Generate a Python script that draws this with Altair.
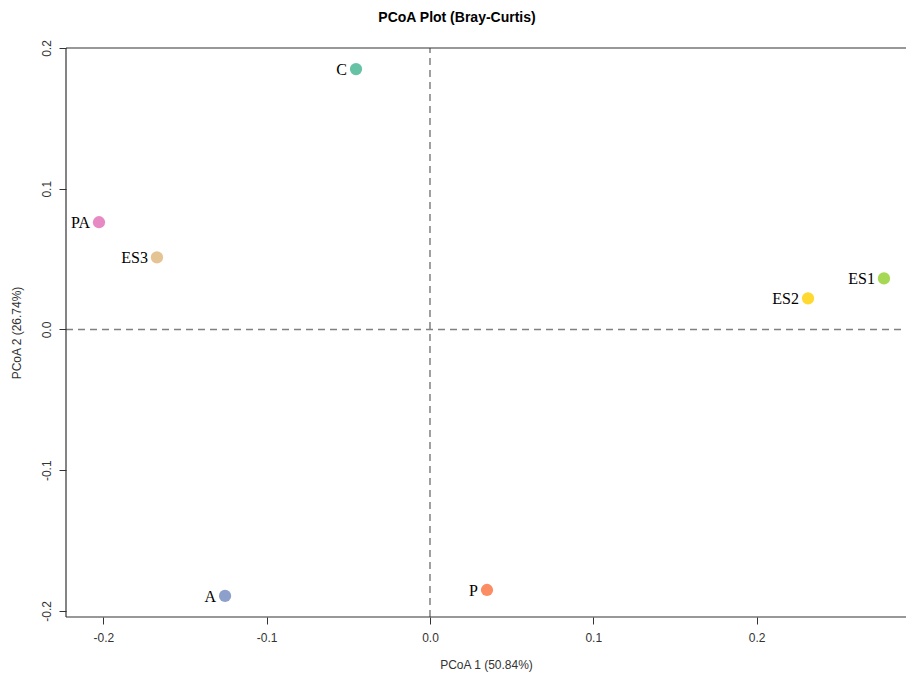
import altair as alt
import pandas as pd

samples = ["C", "PA", "ES3", "ES1", "ES2", "A", "P"]
pc1 = [-0.0453, -0.2027, -0.1672, 0.2780, 0.2315, -0.1255, 0.0349]
pc2 = [0.1850, 0.0762, 0.0512, 0.0363, 0.0221, -0.1893, -0.1851]
colors = ["#66C2A5", "#E78AC3", "#E5C494", "#A6D854", "#FFD92F", "#8DA0CB", "#FC8D62"]
ticks = [-0.2, -0.1, 0.0, 0.1, 0.2]

xdom = [-0.2229, 0.2915]
ydom = [-0.2043, 0.2]

df = pd.DataFrame({"s": samples, "x": pc1, "y": pc2, "c": colors})

xs = alt.Scale(domain=xdom, nice=False, zero=False)
ys = alt.Scale(domain=ydom, nice=False, zero=False)

axis_common = dict(
    values=ticks, grid=False, domain=False,
    labelExpr="replace(format(datum.value, '.1f'), '\u2212', '-')",
    tickColor="#333333", tickSize=7, tickWidth=1,
    labelFont="Liberation Sans", labelFontSize=12, labelColor="#333333",
    titleFont="Liberation Sans", titleFontSize=12, titleFontWeight="normal", titleColor="#333333",
)

base = alt.Chart(df)

points = base.mark_circle(size=150, opacity=1).encode(
    x=alt.X("x:Q", scale=xs, title="PCoA 1 (50.84%)",
            axis=alt.Axis(labelPadding=8, titlePadding=16, **axis_common)),
    y=alt.Y("y:Q", scale=ys, title="PCoA 2 (26.74%)",
            axis=alt.Axis(labelAngle=270, labelAlign="center", labelBaseline="bottom",
                          labelPadding=6, titlePadding=17, **axis_common)),
    color=alt.Color("c:N", scale=None),
)

labels = base.mark_text(align="right", baseline="middle", dx=-9, dy=1,
                        font="Liberation Serif", fontSize=16, color="#000000").encode(
    x=alt.X("x:Q", scale=xs), y=alt.Y("y:Q", scale=ys), text="s:N")

frame_h = pd.DataFrame({"x1": [xdom[0], xdom[0]], "x2": [xdom[1], xdom[1]], "y": [ydom[1], ydom[0]]})
frame_v = pd.DataFrame({"x": [xdom[0]], "y1": [ydom[0]], "y2": [ydom[1]]})

hrules = alt.Chart(frame_h).mark_rule(color="#333333", strokeWidth=1.2).encode(
    x=alt.X("x1:Q", scale=xs), x2="x2:Q", y=alt.Y("y:Q", scale=ys))
vrule = alt.Chart(frame_v).mark_rule(color="#333333", strokeWidth=1.2).encode(
    x=alt.X("x:Q", scale=xs), y=alt.Y("y1:Q", scale=ys), y2="y2:Q")

zero_h = pd.DataFrame({"x1": [xdom[0]], "x2": [xdom[1]], "y": [0.0]})
zero_v = pd.DataFrame({"x": [0.0], "y1": [ydom[0]], "y2": [ydom[1]]})
dash_h = alt.Chart(zero_h).mark_rule(color="#808080", strokeWidth=1.5, strokeDash=[7, 5]).encode(
    x=alt.X("x1:Q", scale=xs), x2="x2:Q", y=alt.Y("y:Q", scale=ys))
dash_v = alt.Chart(zero_v).mark_rule(color="#808080", strokeWidth=1.5, strokeDash=[7, 5]).encode(
    x=alt.X("x:Q", scale=xs), y=alt.Y("y1:Q", scale=ys), y2="y2:Q")

chart = alt.layer(dash_h, dash_v, hrules, vrule, points, labels).properties(
    width=840, height=569,
    title=alt.TitleParams("PCoA Plot (Bray-Curtis)", font="Liberation Sans", fontSize=14,
                          fontWeight="bold", color="#000000", anchor="middle", dx=-29, offset=15),
    autosize=alt.AutoSizeParams(type="none"),
    padding={"left": 58, "top": 40, "right": 0, "bottom": 58},
).configure_view(stroke=None)

chart.save("out.html", embed_options={"renderer": "svg", "actions": False})
